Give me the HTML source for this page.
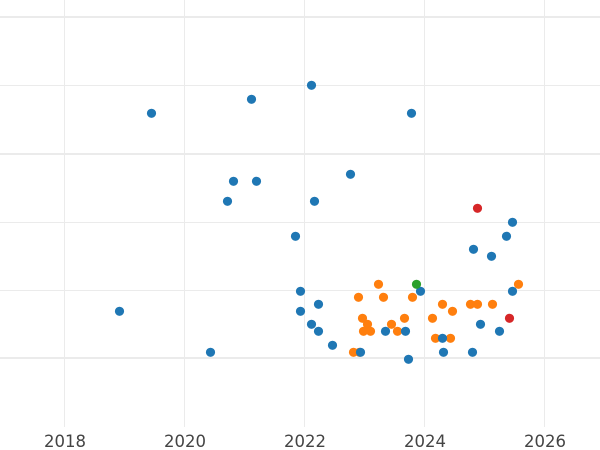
<!DOCTYPE html>
<html><head><style>body{margin:0;background:#fff}svg{display:block}</style></head><body>
<svg width="600" height="450" xmlns="http://www.w3.org/2000/svg">
<g stroke="#ebebeb" stroke-width="1">
<line x1="64.5" y1="0" x2="64.5" y2="427"/><line x1="184.5" y1="0" x2="184.5" y2="427"/>
<line x1="304.5" y1="0" x2="304.5" y2="427"/><line x1="424.5" y1="0" x2="424.5" y2="427"/>
<line x1="544.5" y1="0" x2="544.5" y2="427"/>
<line x1="0" y1="85.5" x2="600" y2="85.5"/><line x1="0" y1="222.5" x2="600" y2="222.5"/><line x1="0" y1="290.5" x2="600" y2="290.5"/>
</g>
<g stroke="#ebebeb" stroke-width="2">
<line x1="0" y1="17" x2="600" y2="17"/><line x1="0" y1="154" x2="600" y2="154"/><line x1="0" y1="358" x2="600" y2="358"/>
</g>
<g font-family="DejaVu Sans, sans-serif" font-size="16.5" fill="#444" text-anchor="middle">
<text x="65" y="447">2018</text><text x="185" y="447">2020</text><text x="305" y="447">2022</text><text x="425" y="447">2024</text><text x="545" y="447">2026</text>
</g>
<g transform="translate(0.5,0.3)">
<g fill="#ff7f0e">
<circle cx="358" cy="297" r="4.6"/><circle cx="378" cy="284" r="4.6"/><circle cx="383" cy="297" r="4.6"/><circle cx="412" cy="297" r="4.6"/>
<circle cx="362" cy="318" r="4.6"/><circle cx="367" cy="324" r="4.6"/><circle cx="363" cy="331" r="4.6"/><circle cx="370" cy="331" r="4.6"/>
<circle cx="391" cy="324" r="4.6"/><circle cx="404" cy="318" r="4.6"/><circle cx="397" cy="331" r="4.6"/><circle cx="353" cy="352" r="4.6"/>
<circle cx="359" cy="352" r="4.6"/><circle cx="432" cy="318" r="4.6"/><circle cx="442" cy="304" r="4.6"/><circle cx="452" cy="311" r="4.6"/>
<circle cx="435" cy="338" r="4.6"/><circle cx="450" cy="338" r="4.6"/><circle cx="470" cy="304" r="4.6"/><circle cx="477" cy="304" r="4.6"/>
<circle cx="492" cy="304" r="4.6"/><circle cx="518" cy="284" r="4.6"/>
</g>
<g fill="#1f77b4">
<circle cx="300" cy="291" r="4.6"/><circle cx="318" cy="304" r="4.6"/><circle cx="300" cy="311" r="4.6"/><circle cx="311" cy="324" r="4.6"/>
<circle cx="318" cy="331" r="4.6"/><circle cx="332" cy="345" r="4.6"/><circle cx="360" cy="352" r="4.6"/><circle cx="385" cy="331" r="4.6"/>
<circle cx="405" cy="331" r="4.6"/><circle cx="408" cy="359" r="4.6"/><circle cx="420" cy="291" r="4.6"/><circle cx="442" cy="338" r="4.6"/>
<circle cx="443" cy="352" r="4.6"/><circle cx="472" cy="352" r="4.6"/><circle cx="480" cy="324" r="4.6"/><circle cx="499" cy="331" r="4.6"/>
<circle cx="512" cy="291" r="4.6"/><circle cx="119" cy="311" r="4.6"/><circle cx="151" cy="113" r="4.6"/><circle cx="251" cy="99" r="4.6"/>
<circle cx="311" cy="85" r="4.6"/><circle cx="411" cy="113" r="4.6"/><circle cx="233" cy="181" r="4.6"/><circle cx="256" cy="181" r="4.6"/>
<circle cx="227" cy="201" r="4.6"/><circle cx="350" cy="174" r="4.6"/><circle cx="314" cy="201" r="4.6"/><circle cx="295" cy="236" r="4.6"/>
<circle cx="210" cy="352" r="4.6"/><circle cx="512" cy="222" r="4.6"/><circle cx="473" cy="249" r="4.6"/><circle cx="506" cy="236" r="4.6"/>
<circle cx="491" cy="256" r="4.6"/>
</g>
<circle cx="416" cy="284" r="4.6" fill="#2ca02c"/>
<circle cx="509" cy="318" r="4.6" fill="#d62728"/><circle cx="477" cy="208" r="4.6" fill="#d62728"/>
</g>
</svg>
</body></html>
